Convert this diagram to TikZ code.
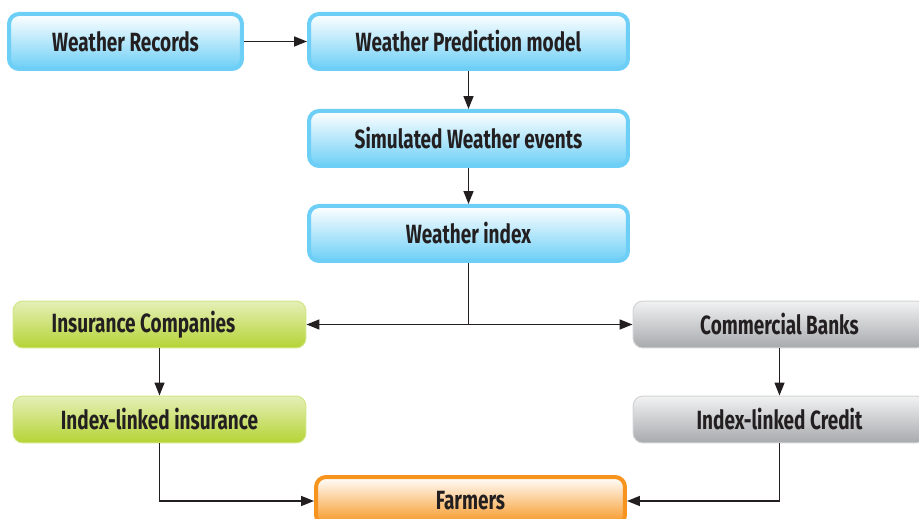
\documentclass[tikz,border=0pt]{standalone}
\usepackage{fontspec}
\newfontfamily\boxfont{Fira Sans}[FakeStretch=0.72]
\usetikzlibrary{arrows.meta}

\definecolor{ink}{RGB}{35,31,32}
\definecolor{wblue}{RGB}{109,207,246}
\definecolor{wgreen}{RGB}{181,211,52}
\definecolor{wgray}{RGB}{167,169,172}
\definecolor{worange}{RGB}{247,148,29}

\begin{document}
\begin{tikzpicture}[x=0.02cm,y=-0.02cm,
    box/.style={rounded corners=0.2cm, align=center, text=ink, inner sep=0pt,
      font=\boxfont\bfseries\fontsize{15}{17}\selectfont},
    bluebox/.style={box, draw=wblue, line width=0.08cm, top color=white,
      middle color=wblue!50, bottom color=wblue, minimum height=1.1cm},
    greenbox/.style={box, draw=wgreen!60, line width=0.02cm, top color=wgreen!35,
      middle color=wgreen!85, bottom color=wgreen, minimum width=5.86cm, minimum height=0.94cm},
    graybox/.style={box, draw=wgray!50, line width=0.02cm, top color=wgray!15,
      middle color=wgray!75, bottom color=wgray, minimum width=5.86cm, minimum height=0.94cm},
    orangebox/.style={box, draw=worange, line width=0.08cm, top color=white,
      middle color=worange!60, bottom color=worange, minimum width=6.18cm, minimum height=0.96cm},
    arr/.style={-{Triangle[length=0.26cm,width=0.2cm]}, draw=ink, line width=0.03cm},
    line/.style={draw=ink, line width=0.03cm}]
  \useasboundingbox (0,0) rectangle (919,519);

  % weather chain
  \node[bluebox, minimum width=4.66cm] (rec) at (125.5,41.5) {Weather Records};
  \node[bluebox, minimum width=6.38cm] (pred) at (468.5,41.5) {Weather Prediction model};
  \node[bluebox, minimum width=6.38cm] (sim) at (468.5,138.5) {Simulated Weather events};
  \node[bluebox, minimum width=6.38cm] (idx) at (468.5,233.5) {Weather index};

  % two branches
  \node[greenbox] (ins) at (159.5,324.5) {Insurance Companies\hspace*{0.64cm}};
  \node[greenbox] (ili) at (159.5,419.5) {Index-linked insurance};
  \node[graybox] (bank) at (779.5,324.5) {Commercial Banks};
  \node[graybox] (ilc) at (779.5,419.5) {Index-linked Credit};
  \node[orangebox] (farm) at (470.5,501) {Farmers};

  \coordinate (split) at (idx.south |- ins.east);

  \draw[arr] (rec) -- (pred);
  \draw[arr] (pred) -- (sim);
  \draw[arr] (sim) -- (idx);
  \draw[line] (idx) -- (split);
  \draw[arr] (split) -- (ins);
  \draw[arr] (split) -- (bank);
  \draw[arr] (ins) -- (ili);
  \draw[arr] (bank) -- (ilc);
  \draw[arr] (ili) |- (farm);
  \draw[arr] (ilc) |- (farm);
\end{tikzpicture}
\end{document}
